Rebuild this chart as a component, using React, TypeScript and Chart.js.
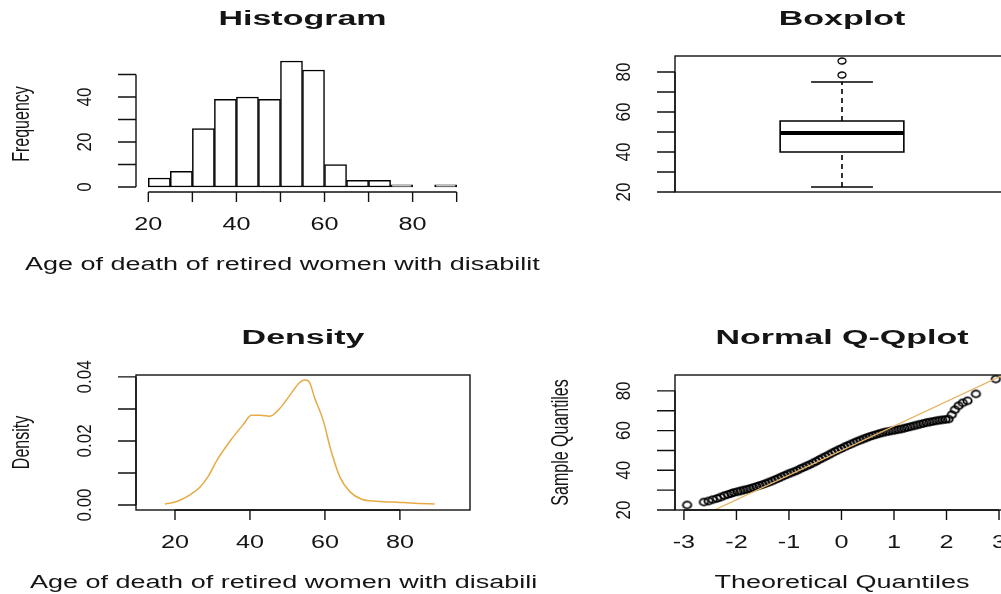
import React, { useEffect, useRef } from 'react';
import { Chart, registerables } from 'chart.js';

Chart.register(...registerables);

// ---------------- Histogram ----------------
const histBinStarts = [20, 25, 30, 35, 40, 45, 50, 55, 60, 65, 70, 75, 80, 85];
const histBinWidth = 5;
const histCounts = [4, 7, 26, 39, 40, 39, 56, 52, 10, 3, 3, 1, 0, 1];
const histXTicks = [20, 30, 40, 50, 60, 70, 80, 90];
const histXTickLabels = ['20', '', '40', '', '60', '', '80', ''];
const histYTicks = [0, 10, 20, 30, 40, 50];
const histYTickLabels = ['0', '', '20', '', '40', ''];

// ---------------- Boxplot ----------------
// whisker low, Q1, median, Q3, whisker high
const boxFiveNumbers = [22.5, 40, 49.5, 55.5, 75];
const boxOutliers = [78.5, 85.5];
const boxYTicks = [20, 30, 40, 50, 60, 70, 80];
const boxYTickLabels = ['20', '', '40', '', '60', '', '80'];

// ---------------- Density ----------------
const densityX = [17.3, 19.5, 21.3, 24, 26.7, 29, 31.1, 34.7, 38.2, 40.4, 42.7, 45.3, 48, 50.7, 52.9, 54.5, 55.7, 57.3, 59.6, 61.5, 64, 66.7, 69.8, 73.8, 80, 85, 89.3];
const densityY = [0.0003, 0.0008, 0.0015, 0.0032, 0.0056, 0.0092, 0.0138, 0.02, 0.0251, 0.028, 0.028, 0.0277, 0.0302, 0.0344, 0.0378, 0.039, 0.0386, 0.0333, 0.0262, 0.0175, 0.0087, 0.0041, 0.0018, 0.0012, 0.0008, 0.0005, 0.0003];
const densityXTicks = [20, 40, 60, 80];
const densityXTickLabels = ['20', '40', '60', '80'];
const densityYTicks = [0, 0.01, 0.02, 0.03, 0.04];
const densityYTickLabels = ['0.00', '', '0.02', '', '0.04'];

// ---------------- Normal Q-Q ----------------
const qqTheoretical = [
  -2.94, -2.62, -2.53, -2.45, -2.37, -2.3, -2.23, -2.16, -2.1,
  -2.05, -1.98, -1.92, -1.86, -1.8, -1.74, -1.68, -1.62, -1.56, -1.5, -1.44, -1.38, -1.32, -1.26, -1.2, -1.14, -1.08, -1.02,
  -0.96, -0.9, -0.84, -0.78, -0.72, -0.66, -0.6, -0.54, -0.48, -0.42, -0.36, -0.3, -0.24, -0.18, -0.12, -0.06,
  0, 0.06, 0.12, 0.18, 0.24, 0.3, 0.36, 0.42, 0.48, 0.54, 0.6, 0.66, 0.72, 0.78, 0.84, 0.9, 0.96,
  1.02, 1.08, 1.14, 1.2, 1.26, 1.32, 1.38, 1.44, 1.5, 1.56, 1.62, 1.68, 1.74, 1.8, 1.86, 1.92, 1.98, 2.04,
  2.1, 2.16, 2.23, 2.31, 2.4, 2.56, 2.94,
];
const qqSample = [
  22.5, 24.0, 24.5, 25.2, 25.8, 26.5, 27.2, 27.8, 28.3,
  28.8, 29.2, 29.6, 30.0, 30.4, 30.8, 31.3, 31.8, 32.3, 32.8, 33.4, 34.0, 34.6, 35.3, 36.0, 36.7, 37.4, 38.1,
  38.7, 39.3, 40.0, 40.8, 41.5, 42.2, 42.9, 43.7, 44.5, 45.4, 46.2, 47.0, 47.8, 48.7, 49.5, 50.3,
  51.0, 51.8, 52.5, 53.2, 53.9, 54.6, 55.2, 55.8, 56.4, 57.0, 57.5, 58.0, 58.5, 58.9, 59.3, 59.6, 59.9,
  60.2, 60.5, 60.8, 61.2, 61.6, 62.0, 62.4, 62.8, 63.2, 63.6, 64.0, 64.3, 64.6, 64.9, 65.2, 65.4, 65.6, 65.8,
  68.0, 70.5, 72.5, 74.0, 75.0, 78.5, 86.0,
];
const qqLineX = [-3.2, 3.2];
const qqLineY = [10.3, 89.5];
const qqXTicks = [-3, -2, -1, 0, 1, 2, 3];
const qqXTickLabels = ['-3', '-2', '-1', '0', '1', '2', '3'];
const qqYTicks = [20, 30, 40, 50, 60, 70, 80];
const qqYTickLabels = ['20', '', '40', '', '60', '', '80'];

// ---------------- styling ----------------
const FONT = '"Liberation Sans", Arial, Helvetica, sans-serif';
const TEXT_COLOR = '#151515';
const AXIS_COLOR = '#111111';
const ORANGE = '#E6AB45';

function drawText(ctx: CanvasRenderingContext2D, text: string, x: number, y: number, o: any) {
  ctx.save();
  ctx.translate(x, y);
  if (o.rot) ctx.rotate(o.rot);
  ctx.scale(o.sx ?? 1, o.sy ?? 1);
  ctx.font = o.font;
  ctx.fillStyle = TEXT_COLOR;
  ctx.textAlign = o.align ?? 'center';
  ctx.textBaseline = o.baseline ?? 'alphabetic';
  ctx.fillText(text, 0, 0);
  ctx.restore();
}

// open ellipse marker (R's pch=1, horizontally stretched like the reference)
function ringImage(rx: number, ry: number, lw: number) {
  const c = document.createElement('canvas');
  const w = Math.ceil(2 * rx + lw + 2);
  const h = Math.ceil(2 * ry + lw + 2);
  c.width = w;
  c.height = h;
  const g = c.getContext('2d')!;
  g.strokeStyle = '#000000';
  g.lineWidth = lw;
  g.beginPath();
  g.ellipse(w / 2, h / 2, rx, ry, 0, 0, Math.PI * 2);
  g.stroke();
  return c;
}

const rAxesPlugin = {
  id: 'rAxes',
  afterDraw(chart: any, _args: any, o: any) {
    const ctx: CanvasRenderingContext2D = chart.ctx;
    const ca = chart.chartArea;
    const xs = chart.scales.x;
    const ys = chart.scales.y;
    ctx.save();
    ctx.strokeStyle = AXIS_COLOR;
    ctx.lineWidth = 1.4;
    if (o.frame) {
      ctx.strokeRect(ca.left, ca.top, ca.right - ca.left, ca.bottom - ca.top);
    }
    if (o.xAxis) {
      const xt = xs.ticks.map((t: any) => xs.getPixelForValue(t.value));
      ctx.beginPath();
      ctx.moveTo(xt[0], ca.bottom);
      ctx.lineTo(xt[xt.length - 1], ca.bottom);
      xt.forEach((px: number) => {
        ctx.moveTo(px, ca.bottom);
        ctx.lineTo(px, ca.bottom + 10);
      });
      ctx.stroke();
      xt.forEach((px: number, i: number) => {
        const lab = o.xLabels[i];
        if (lab) drawText(ctx, lab, px, ca.bottom + 37.5, { font: `18px ${FONT}`, sx: 1.4 });
      });
    }
    if (o.yAxis) {
      const yt = ys.ticks.map((t: any) => ys.getPixelForValue(t.value));
      ctx.beginPath();
      ctx.moveTo(ca.left, yt[0]);
      ctx.lineTo(ca.left, yt[yt.length - 1]);
      yt.forEach((py: number) => {
        ctx.moveTo(ca.left, py);
        ctx.lineTo(ca.left - 18, py);
      });
      ctx.stroke();
      yt.forEach((py: number, i: number) => {
        const lab = o.yLabels[i];
        if (lab)
          drawText(ctx, lab, ca.left - 50.5, py, {
            font: `17px ${FONT}`,
            rot: -Math.PI / 2,
            sy: 1.2,
            baseline: 'middle',
          });
      });
    }
    const cx = (ca.left + ca.right) / 2;
    const cy = (ca.top + ca.bottom) / 2;
    if (o.title) drawText(ctx, o.title, cx, ca.top - 31, { font: `bold 20px ${FONT}`, sx: 1.7 });
    if (o.xTitle) {
      if (o.xTitleLeft != null)
        drawText(ctx, o.xTitle, o.xTitleLeft, ca.bottom + 77.5, { font: `18px ${FONT}`, sx: 1.5, align: 'left' });
      else drawText(ctx, o.xTitle, cx, ca.bottom + 77.5, { font: `18px ${FONT}`, sx: 1.5 });
    }
    if (o.yTitle)
      drawText(ctx, o.yTitle, ca.left - 114, cy, {
        font: `16px ${FONT}`,
        rot: -Math.PI / 2,
        sy: 1.5,
        baseline: 'middle',
      });
    ctx.restore();
  },
};

const fixedTicks = (values: number[]) => (scale: any) => {
  scale.ticks = values.map((v) => ({ value: v }));
};

const baseOptions = (padding: any, rAxes: any, scales: any) => ({
  animation: false,
  responsive: false,
  devicePixelRatio: 1,
  events: [],
  layout: { padding },
  plugins: { legend: { display: false }, tooltip: { enabled: false }, title: { display: false }, rAxes },
  scales,
});

function histConfig(): any {
  return {
    type: 'bar',
    data: {
      datasets: [
        {
          data: histBinStarts.map((s, i) => ({ x: s + histBinWidth / 2, y: histCounts[i] })),
          backgroundColor: '#ffffff',
          borderColor: '#000000',
          borderWidth: 1.5,
          borderSkipped: false,
          barPercentage: 1,
          categoryPercentage: 1,
        },
      ],
    },
    options: baseOptions(
      { left: 136, right: 71, top: 56, bottom: 105 },
      {
        title: 'Histogram',
        xTitle: 'Age of death of retired women with disabilit',
        xTitleLeft: 25,
        yTitle: 'Frequency',
        xAxis: true,
        yAxis: true,
        frame: false,
        xLabels: histXTickLabels,
        yLabels: histYTickLabels,
      },
      {
        x: { type: 'linear', display: false, offset: false, min: 17.2, max: 92.8, ticks: { display: false }, afterBuildTicks: fixedTicks(histXTicks) },
        y: { type: 'linear', display: false, min: -2.24, max: 58.24, ticks: { display: false }, afterBuildTicks: fixedTicks(histYTicks) },
      }
    ),
    plugins: [rAxesPlugin],
  };
}

function boxConfig(): any {
  const [wLo, q1, med, q3, wHi] = boxFiveNumbers;
  const c = 1;
  const h = 0.2;
  const s = 0.1;
  const seg = (extra: any) => ({
    type: 'line',
    borderColor: '#000000',
    borderWidth: 1.6,
    pointRadius: 0,
    fill: false,
    tension: 0,
    borderCapStyle: 'square',
    ...extra,
  });
  return {
    type: 'scatter',
    data: {
      datasets: [
        seg({ data: [{ x: c - h, y: q1 }, { x: c + h, y: q1 }, { x: c + h, y: q3 }, { x: c - h, y: q3 }, { x: c - h, y: q1 }] }),
        seg({ data: [{ x: c - h, y: med }, { x: c + h, y: med }], borderWidth: 3.8, borderCapStyle: 'butt' }),
        seg({ data: [{ x: c, y: wLo }, { x: c, y: q1 }], borderDash: [5, 4], borderCapStyle: 'butt' }),
        seg({ data: [{ x: c, y: q3 }, { x: c, y: wHi }], borderDash: [5, 4], borderCapStyle: 'butt' }),
        seg({ data: [{ x: c - s, y: wLo }, { x: c + s, y: wLo }], borderCapStyle: 'butt' }),
        seg({ data: [{ x: c - s, y: wHi }, { x: c + s, y: wHi }], borderCapStyle: 'butt' }),
        {
          type: 'scatter',
          data: boxOutliers.map((v) => ({ x: c, y: v })),
          pointStyle: ringImage(4, 3, 1.3),
          pointRadius: 4,
        },
      ],
    },
    options: baseOptions(
      { left: 135, right: 12, top: 56, bottom: 105 },
      {
        title: 'Boxplot',
        xAxis: false,
        yAxis: true,
        frame: true,
        yLabels: boxYTickLabels,
      },
      {
        x: { type: 'linear', display: false, min: 0.46, max: 1.54, ticks: { display: false } },
        y: { type: 'linear', display: false, min: 19.98, max: 88.02, ticks: { display: false }, afterBuildTicks: fixedTicks(boxYTicks) },
      }
    ),
    plugins: [rAxesPlugin],
  };
}

function densityConfig(): any {
  return {
    type: 'line',
    data: {
      datasets: [
        {
          data: densityX.map((x, i) => ({ x, y: densityY[i] })),
          borderColor: ORANGE,
          borderWidth: 1.5,
          pointRadius: 0,
          fill: false,
          cubicInterpolationMode: 'monotone',
        },
      ],
    },
    options: baseOptions(
      { left: 136, right: 70, top: 78, bottom: 84 },
      {
        title: 'Density',
        xTitle: 'Age of death of retired women with disabili',
        xTitleLeft: 30,
        yTitle: 'Density',
        xAxis: true,
        yAxis: true,
        frame: true,
        xLabels: densityXTickLabels,
        yLabels: densityYTickLabels,
      },
      {
        x: { type: 'linear', display: false, min: 9.6, max: 98.7, ticks: { display: false }, afterBuildTicks: fixedTicks(densityXTicks) },
        y: { type: 'linear', display: false, min: -0.00156, max: 0.0406, ticks: { display: false }, afterBuildTicks: fixedTicks(densityYTicks) },
      }
    ),
    plugins: [rAxesPlugin],
  };
}

function qqConfig(): any {
  return {
    type: 'scatter',
    data: {
      datasets: [
        {
          type: 'line',
          data: qqLineX.map((x, i) => ({ x, y: qqLineY[i] })),
          borderColor: '#E8B466',
          borderWidth: 1.3,
          pointRadius: 0,
          fill: false,
        },
        {
          type: 'scatter',
          data: qqTheoretical.map((x, i) => ({ x, y: qqSample[i] })),
          pointStyle: ringImage(4.2, 3.3, 1.8),
          pointRadius: 4,
        },
      ],
    },
    options: baseOptions(
      { left: 135, right: 12, top: 78, bottom: 84 },
      {
        title: 'Normal Q-Qplot',
        xTitle: 'Theoretical Quantiles',
        yTitle: 'Sample Quantiles',
        xAxis: true,
        yAxis: true,
        frame: true,
        xLabels: qqXTickLabels,
        yLabels: qqYTickLabels,
      },
      {
        x: { type: 'linear', display: false, min: -3.17, max: 3.19, ticks: { display: false }, afterBuildTicks: fixedTicks(qqXTicks) },
        y: { type: 'linear', display: false, min: 19.98, max: 88.02, ticks: { display: false }, afterBuildTicks: fixedTicks(qqYTicks) },
      }
    ),
    plugins: [rAxesPlugin],
  };
}

function Panel(props: { left: number; top: number; width: number; height: number; build: () => any }) {
  const ref = useRef<HTMLCanvasElement | null>(null);
  useEffect(() => {
    if (!ref.current) return;
    const chart = new Chart(ref.current, props.build());
    return () => chart.destroy();
  }, []);
  return (
    <canvas
      ref={ref}
      width={props.width}
      height={props.height}
      style={{ position: 'absolute', left: props.left, top: props.top, width: props.width, height: props.height }}
    />
  );
}

export default function App() {
  return (
    <div
      style={{
        position: 'fixed',
        left: 0,
        top: 0,
        width: 1001,
        height: 594,
        overflow: 'hidden',
        background: '#ffffff',
      }}
    >
      <Panel left={0} top={0} width={540} height={297} build={histConfig} />
      <Panel left={540} top={0} width={481} height={297} build={boxConfig} />
      <Panel left={0} top={297} width={540} height={297} build={densityConfig} />
      <Panel left={540} top={297} width={481} height={297} build={qqConfig} />
    </div>
  );
}
